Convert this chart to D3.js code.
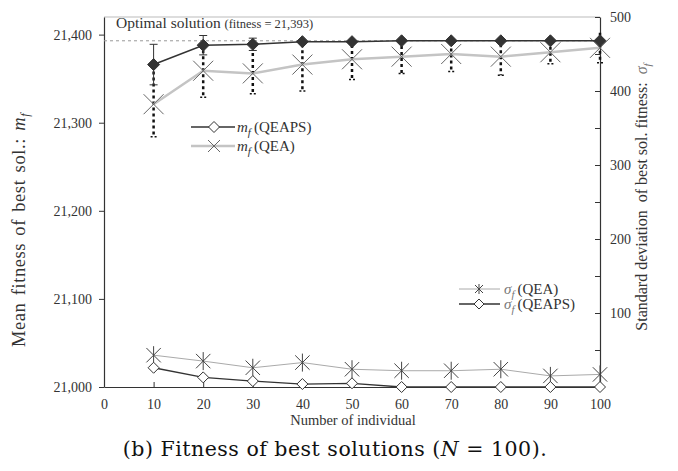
<!doctype html>
<html>
<head>
<meta charset="utf-8">
<title>Fitness of best solutions</title>
<script src="https://d3js.org/d3.v7.min.js"></script>
<style>
	body { margin: 0; background: #fff; }
	text { font-family: "Liberation Serif", "Times New Roman", serif; fill: #333; }
	text.caption { font-family: "DejaVu Serif", serif; fill: #111; }
</style>
</head>
<body>
<svg id="chart" width="678" height="471"></svg>
<script>
	// values
	const individuals = [10, 20, 30, 40, 50, 60, 70, 80, 90, 100];
	const mfQEAPS = [21366, 21388, 21389, 21392, 21392, 21393, 21393, 21393, 21393, 21393];
	const errQEAPS = [23, 11, 7, 2, 2, 1, 1, 1, 1, 1];
	const mfQEA = [21321, 21359, 21356, 21366, 21372, 21375, 21378, 21375, 21380, 21385];
	const errQEA = [37, 30, 23, 30, 23, 19, 20, 21, 13, 17];
	const sdQEA = [43, 35, 26, 33, 24, 22, 22, 24, 15, 17];
	const sdQEAPS = [26, 13, 8, 4, 5, 0, 0, 0, 0, 0];
	const xTicks = [0, 10, 20, 30, 40, 50, 60, 70, 80, 90, 100];
	const leftTicks = [21000, 21100, 21200, 21300, 21400];
	const rightTicks = [50, 100, 150, 200, 250, 300, 350, 400, 450, 500];
	const optimum = 21393;

	const svg = d3.select("#chart");
	const x = d3.scaleLinear().domain([0, 100]).range([104, 600]);
	const yL = d3.scaleLinear().domain([21000, 21420]).range([387, 17]);
	const yR = d3.scaleLinear().domain([0, 500]).range([387, 17]);

	// marker paths
	const diamond = (cx, cy, r) => `M${cx},${cy - r}L${cx + r},${cy}L${cx},${cy + r}L${cx - r},${cy}Z`;
	const cross = (cx, cy, r) => `M${cx - r},${cy - r}L${cx + r},${cy + r}M${cx + r},${cy - r}L${cx - r},${cy + r}`;
	const star = (cx, cy, r) => cross(cx, cy, r * 0.8) + `M${cx},${cy - r}L${cx},${cy + r}`;

	// frame top
	svg.append("line").attr("x1", 104).attr("x2", 600).attr("y1", 17).attr("y2", 17)
		.attr("stroke", "#bbb");

	// axes
	function styleAxis(g) {
		g.attr("font-family", null);
		g.selectAll("path.domain").attr("stroke", "#333").attr("stroke-width", 1.2);
		g.selectAll(".tick line").attr("stroke", "#333");
		g.selectAll(".tick text").attr("font-size", 14).attr("fill", "#333");
	}
	svg.append("g").attr("transform", "translate(104,0)")
		.call(d3.axisLeft(yL).tickValues(leftTicks).tickFormat(d3.format(",")).tickSizeInner(5).tickSizeOuter(0).tickPadding(7))
		.call(styleAxis);
	svg.append("g").attr("transform", "translate(0,387)")
		.call(d3.axisBottom(x).tickValues(xTicks).tickSizeInner(-5).tickSizeOuter(0).tickPadding(12))
		.call(styleAxis);
	svg.append("g").attr("transform", "translate(600,0)")
		.call(d3.axisRight(yR).tickValues(rightTicks).tickFormat(d => d % 100 === 0 ? d : "").tickSizeInner(-5).tickSizeOuter(0).tickPadding(10))
		.call(styleAxis);

	// optimal solution line
	svg.append("line").attr("x1", 104).attr("x2", 600).attr("y1", yL(optimum)).attr("y2", yL(optimum))
		.attr("stroke", "#999").attr("stroke-dasharray", "3,3");
	const opt = svg.append("text").attr("x", 116).attr("y", 28);
	opt.append("tspan").attr("font-size", 15.5).text("Optimal solution ");
	opt.append("tspan").attr("font-size", 12.5).text("(fitness = 21,393)");

	const rows = individuals.map((d, i) => ({
		n: d, mA: mfQEAPS[i], eA: errQEAPS[i], mB: mfQEA[i], eB: errQEA[i], sB: sdQEA[i], sA: sdQEAPS[i]
	}));

	// sigma lines (right axis)
	svg.append("path").datum(rows).attr("fill", "none").attr("stroke", "#aaa").attr("stroke-width", 1)
		.attr("d", d3.line().x(d => x(d.n)).y(d => yR(d.sB)));
	svg.append("path").datum(rows).attr("fill", "none").attr("stroke", "#333").attr("stroke-width", 1.3)
		.attr("d", d3.line().x(d => x(d.n)).y(d => yR(d.sA)));
	svg.append("g").selectAll("path").data(rows).join("path")
		.attr("d", d => star(x(d.n), yR(d.sB), 9)).attr("stroke", "#444").attr("fill", "none");
	svg.append("g").selectAll("path").data(rows).join("path")
		.attr("d", d => diamond(x(d.n), yR(d.sA), 5.5)).attr("stroke", "#333").attr("fill", "#fff");

	// QEA mean with dotted error bars
	const eb = svg.append("g").attr("stroke", "#111").attr("stroke-width", 2.5).attr("stroke-dasharray", "3,3");
	eb.selectAll("line.v").data(rows).join("line").attr("class", "v")
		.attr("x1", d => x(d.n)).attr("x2", d => x(d.n))
		.attr("y1", d => yL(d.mB + d.eB)).attr("y2", d => yL(d.mB - d.eB));
	eb.selectAll("line.c").data(rows).join("line").attr("class", "c")
		.attr("stroke-width", 1.5).attr("stroke-dasharray", "2,2")
		.attr("x1", d => x(d.n) - 3).attr("x2", d => x(d.n) + 3)
		.attr("y1", d => yL(d.mB - d.eB)).attr("y2", d => yL(d.mB - d.eB));
	svg.append("path").datum(rows).attr("fill", "none").attr("stroke", "#c4c4c4").attr("stroke-width", 2.5)
		.attr("d", d3.line().x(d => x(d.n)).y(d => yL(d.mB)));
	svg.append("g").selectAll("path").data(rows).join("path")
		.attr("d", d => cross(x(d.n), yL(d.mB), 10)).attr("stroke", "#666").attr("fill", "none");

	// QEAPS mean with solid error bars
	const ea = svg.append("g").attr("stroke", "#333").attr("stroke-width", 1);
	rows.filter(d => d.eA > 3).forEach(d => {
		const cx = x(d.n), t = yL(d.mA + d.eA), b = yL(d.mA - d.eA);
		ea.append("path").attr("d", `M${cx},${t}L${cx},${b}M${cx - 4},${t}L${cx + 4},${t}M${cx - 4},${b}L${cx + 4},${b}`);
	});
	svg.append("path").datum(rows).attr("fill", "none").attr("stroke", "#333").attr("stroke-width", 1.5)
		.attr("d", d3.line().x(d => x(d.n)).y(d => yL(d.mA)));
	svg.append("g").selectAll("path").data(rows).join("path")
		.attr("d", d => diamond(x(d.n), yL(d.mA), 6)).attr("fill", "#333").attr("stroke", "#333");

	// legends
	function label(g, px, py, sym, name, symColor) {
		const t = g.append("text").attr("x", px).attr("y", py).attr("font-size", 15);
		t.append("tspan").attr("font-style", "italic").attr("fill", symColor).text(sym);
		t.append("tspan").attr("font-style", "italic").attr("font-size", 11).attr("dy", 4).attr("fill", symColor).text("f");
		t.append("tspan").attr("dy", -4).attr("dx", 3).text(name);
	}
	const lg = svg.append("g");
	lg.append("line").attr("x1", 191).attr("x2", 235).attr("y1", 127).attr("y2", 127).attr("stroke", "#333").attr("stroke-width", 1.5);
	lg.append("path").attr("d", diamond(214, 127, 5.5)).attr("fill", "#fff").attr("stroke", "#333");
	label(lg, 237, 132, "m", "(QEAPS)", "#333");
	lg.append("line").attr("x1", 191).attr("x2", 235).attr("y1", 146).attr("y2", 146).attr("stroke", "#c4c4c4").attr("stroke-width", 2.5);
	lg.append("path").attr("d", cross(214, 146, 6)).attr("stroke", "#666").attr("fill", "none");
	label(lg, 237, 151, "m", "(QEA)", "#333");

	lg.append("line").attr("x1", 459).attr("x2", 500).attr("y1", 289).attr("y2", 289).attr("stroke", "#aaa");
	lg.append("path").attr("d", star(479, 289, 5)).attr("stroke", "#444").attr("fill", "none");
	label(lg, 504, 294, "σ", "(QEA)", "#777");
	lg.append("line").attr("x1", 459).attr("x2", 500).attr("y1", 304).attr("y2", 304).attr("stroke", "#333").attr("stroke-width", 1.3);
	lg.append("path").attr("d", diamond(479, 304, 5)).attr("stroke", "#333").attr("fill", "#fff");
	label(lg, 504, 309, "σ", "(QEAPS)", "#777");

	// axis titles
	const lt = svg.append("text").attr("transform", "translate(25,230) rotate(-90)")
		.attr("text-anchor", "middle").attr("font-size", 18.5)
		.attr("letter-spacing", 0.6).attr("word-spacing", 2);
	lt.append("tspan").text("Mean fitness of best sol.: ");
	lt.append("tspan").attr("font-style", "italic").text("m");
	lt.append("tspan").attr("font-style", "italic").attr("font-size", 12).attr("dy", 4).text("f");

	const rt = svg.append("text").attr("transform", "translate(647,197) rotate(-90)")
		.attr("text-anchor", "middle").attr("font-size", 16);
	rt.append("tspan").text("Standard deviation\u00a0 of best sol. fitness:\u00a0 ");
	rt.append("tspan").attr("font-style", "italic").attr("fill", "#777").text("σ");
	rt.append("tspan").attr("font-style", "italic").attr("fill", "#777").attr("font-size", 11).attr("dy", 4).text("f");

	svg.append("text").attr("x", 353).attr("y", 425).attr("text-anchor", "middle")
		.attr("font-size", 14.5).attr("fill", "#444").text("Number of individual");

	// caption
	const cap = svg.append("text").attr("class", "caption").attr("x", 335).attr("y", 456)
		.attr("text-anchor", "middle").attr("font-size", 20.5).attr("letter-spacing", 0.5);
	cap.append("tspan").text("(b) Fitness of best solutions (");
	cap.append("tspan").attr("font-style", "italic").text("N");
	cap.append("tspan").text(" = 100).");
</script>
</body>
</html>
